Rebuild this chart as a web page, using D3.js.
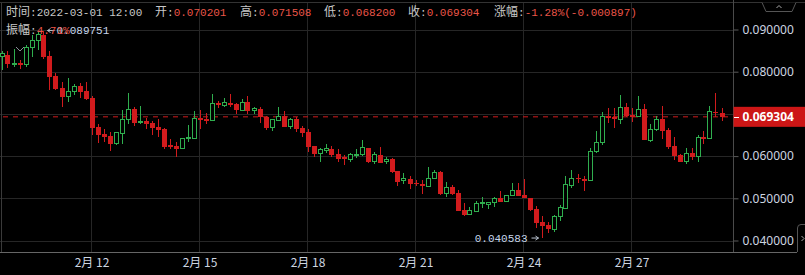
<!DOCTYPE html>
<html>
<head>
<meta charset="utf-8">
<script src="https://cdn.jsdelivr.net/npm/d3@7/dist/d3.min.js"></script>
<style>
  html, body { margin: 0; padding: 0; background: #000; overflow: hidden; }
  svg { display: block; }
</style>
</head>
<body>
<svg id="chart" width="805" height="275"></svg>
<script>
'use strict';

// 4h candles, the first one opens 2022-02-09 12:00
const startTime = new Date(2022, 1, 9, 12);
const stepHours = 4;

const opens = [
  0.0835, 0.0840, 0.0818, 0.0820, 0.0818, 0.0857, 0.0874, 0.0887, 0.0837, 0.0790,
  0.0761, 0.0741, 0.0753, 0.0766, 0.0754, 0.0737, 0.0668, 0.0652, 0.0648, 0.0630,
  0.0654, 0.0686, 0.0712, 0.0680, 0.0683, 0.0679, 0.0670, 0.0664, 0.0626, 0.0624,
  0.0619, 0.0642, 0.0642, 0.0691, 0.0688, 0.0684, 0.0727, 0.0721, 0.0727, 0.0724,
  0.0709, 0.0728, 0.0709, 0.0712, 0.0692, 0.0667, 0.0684, 0.0695, 0.0670, 0.0687,
  0.0667, 0.0658, 0.0624, 0.0607, 0.0614, 0.0617, 0.0605, 0.0597, 0.0591, 0.0601,
  0.0603, 0.0620, 0.0587, 0.0603, 0.0587, 0.0593, 0.0565, 0.0541, 0.0546, 0.0537,
  0.0534, 0.0528, 0.0547, 0.0562, 0.0512, 0.0526, 0.0512, 0.0472, 0.0462, 0.0468,
  0.0487, 0.0486, 0.0490, 0.0500, 0.0492, 0.0506, 0.0519, 0.0508, 0.0500, 0.0475,
  0.0443, 0.0437, 0.0427, 0.0458, 0.0476, 0.0530, 0.0549, 0.0546, 0.0542, 0.0610,
  0.0633, 0.0695, 0.0692, 0.0687, 0.0716, 0.0697, 0.0693, 0.0711, 0.0637, 0.0664,
  0.0688, 0.0662, 0.0624, 0.0603, 0.0587, 0.0607, 0.0599, 0.0646, 0.0642, 0.0705,
  0.070201
];
const highs = [
  0.0849, 0.0849, 0.0854, 0.0828, 0.0863, 0.0887, 0.0895, 0.089751, 0.0849, 0.0798,
  0.0775, 0.0786, 0.0770, 0.0773, 0.0775, 0.0743, 0.0676, 0.0664, 0.0658, 0.0657,
  0.0709, 0.0749, 0.0717, 0.0719, 0.0691, 0.0683, 0.0687, 0.0667, 0.0640, 0.0634,
  0.0643, 0.0674, 0.0708, 0.0709, 0.0703, 0.0747, 0.0731, 0.0738, 0.0747, 0.0725,
  0.0735, 0.0743, 0.0717, 0.0717, 0.0696, 0.0686, 0.0716, 0.0708, 0.0691, 0.0692,
  0.0672, 0.0664, 0.0624, 0.0619, 0.0629, 0.0624, 0.0617, 0.0603, 0.0608, 0.0617,
  0.0637, 0.0620, 0.0610, 0.0622, 0.0597, 0.0595, 0.0565, 0.0559, 0.0554, 0.0543,
  0.0543, 0.0575, 0.0567, 0.0565, 0.0538, 0.0532, 0.0520, 0.0490, 0.0480, 0.0494,
  0.0502, 0.0491, 0.0504, 0.0517, 0.0507, 0.0536, 0.0536, 0.0546, 0.0501, 0.0482,
  0.0459, 0.0445, 0.0460, 0.0484, 0.0554, 0.0567, 0.0558, 0.0554, 0.0619, 0.0660,
  0.0705, 0.0715, 0.0715, 0.0745, 0.0725, 0.0713, 0.0742, 0.0724, 0.0676, 0.0696,
  0.0719, 0.0666, 0.0646, 0.0605, 0.0619, 0.0619, 0.0650, 0.0660, 0.0719, 0.0749,
  0.071508
];
const lows = [
  0.0804, 0.0809, 0.0812, 0.0806, 0.0812, 0.0836, 0.0851, 0.0829, 0.0757, 0.0757,
  0.0717, 0.0729, 0.0745, 0.0737, 0.0733, 0.0650, 0.0630, 0.0634, 0.0612, 0.0626,
  0.0629, 0.0675, 0.0672, 0.0675, 0.0664, 0.0650, 0.0646, 0.0617, 0.0618, 0.0597,
  0.0618, 0.0634, 0.0641, 0.0664, 0.0676, 0.0682, 0.0713, 0.0717, 0.0717, 0.0699,
  0.0707, 0.0699, 0.0699, 0.0679, 0.0662, 0.0660, 0.0684, 0.0668, 0.0664, 0.0656,
  0.0645, 0.0609, 0.0599, 0.0587, 0.0607, 0.0599, 0.0585, 0.0579, 0.0585, 0.0596,
  0.0601, 0.0583, 0.0581, 0.0583, 0.0581, 0.0559, 0.0530, 0.0534, 0.0522, 0.0530,
  0.0510, 0.0526, 0.0546, 0.0508, 0.0502, 0.0508, 0.0471, 0.0459, 0.0460, 0.0467,
  0.0478, 0.0474, 0.0480, 0.0492, 0.0492, 0.0505, 0.0505, 0.0500, 0.0470, 0.0430,
  0.040583, 0.0417, 0.0420, 0.0446, 0.0476, 0.0524, 0.0537, 0.0518, 0.0542, 0.0607,
  0.0626, 0.0678, 0.0666, 0.0675, 0.0693, 0.0680, 0.0692, 0.0637, 0.0634, 0.0660,
  0.0640, 0.0618, 0.0591, 0.0585, 0.0581, 0.0591, 0.0585, 0.0628, 0.0642, 0.0692,
  0.068200
];
const closes = [
  0.0842, 0.0818, 0.0820, 0.0817, 0.0858, 0.0875, 0.0887, 0.0836, 0.0788, 0.0759,
  0.0741, 0.0754, 0.0766, 0.0753, 0.0735, 0.0667, 0.0650, 0.0646, 0.0629, 0.0656,
  0.0687, 0.0711, 0.0679, 0.0683, 0.0676, 0.0667, 0.0662, 0.0622, 0.0622, 0.0617,
  0.0642, 0.0645, 0.0690, 0.0686, 0.0684, 0.0725, 0.0721, 0.0727, 0.0721, 0.0709,
  0.0728, 0.0707, 0.0712, 0.0692, 0.0667, 0.0686, 0.0695, 0.0670, 0.0686, 0.0664,
  0.0655, 0.0622, 0.0605, 0.0615, 0.0617, 0.0603, 0.0593, 0.0592, 0.0603, 0.0604,
  0.0620, 0.0585, 0.0603, 0.0584, 0.0593, 0.0563, 0.0539, 0.0546, 0.0534, 0.0533,
  0.0528, 0.0547, 0.0562, 0.0510, 0.0526, 0.0510, 0.0471, 0.0460, 0.0470, 0.0487,
  0.0490, 0.0491, 0.0500, 0.0492, 0.0506, 0.0519, 0.0506, 0.0500, 0.0472, 0.0441,
  0.0435, 0.0427, 0.0458, 0.0479, 0.0532, 0.0547, 0.0545, 0.0542, 0.0610, 0.0633,
  0.0693, 0.0690, 0.0687, 0.0716, 0.0696, 0.0693, 0.0711, 0.0637, 0.0664, 0.0687,
  0.0660, 0.0622, 0.0601, 0.0587, 0.0607, 0.0599, 0.0645, 0.0641, 0.0705, 0.070201,
  0.069304
];

const priceTicks = [0.04, 0.05, 0.06, 0.07, 0.08, 0.09];
const dayTicks = [12, 15, 18, 21, 24, 27].map(d => new Date(2022, 1, d));

const headerItems = [
  { label: '时间', value: '2022-03-01 12:00', hot: false },
  { label: '开', value: '0.070201', hot: true },
  { label: '高', value: '0.071508', hot: true },
  { label: '低', value: '0.068200', hot: true },
  { label: '收', value: '0.069304', hot: true },
  { label: '涨幅', value: '-1.28%(-0.000897)', hot: true }
];
const amplitude = { label: '振幅', value: '4.71%' };

// layout
const W = 805, H = 275;
const plotRight = 733.5, plotTop = 2.5, plotBottom = 252.5;
const headerX = [6, 155, 240, 324, 408, 494];
const UP = '#2fae4e', DOWN = '#d11b1d';
const GRID = '#262626';
const AXIS_TEXT = '#cdd5e0';
const MONO = '"Liberation Mono", "DejaVu Sans Mono", monospace';
const CJK = '"Noto Sans CJK SC", "Noto Sans", sans-serif';
const SANS = '"Noto Sans", "Noto Sans CJK SC", sans-serif';

const candles = closes.map((c, i) => ({
  t: d3.timeHour.offset(startTime, i * stepHours),
  o: opens[i], h: highs[i], l: lows[i], c
}));

const svg = d3.select('#chart');
svg.append('rect').attr('width', W).attr('height', H).attr('fill', '#000');

const x = d3.scaleTime()
  .domain([dayTicks[0], dayTicks[dayTicks.length - 1]])
  .range([91.5, 631.5]);
const y = d3.scaleLinear().domain([0.04, 0.09]).range([240.5, 29.5]);
const cx = d => Math.round(x(d.t)) + 0.5;

// frame + grid
const grid = svg.append('g').attr('shape-rendering', 'crispEdges');
grid.selectAll('line.h').data(priceTicks).join('line')
  .attr('class', 'h')
  .attr('x1', 0).attr('x2', plotRight)
  .attr('y1', d => Math.round(y(d)) + 0.5).attr('y2', d => Math.round(y(d)) + 0.5)
  .attr('stroke', GRID);
grid.selectAll('line.v').data(dayTicks).join('line')
  .attr('class', 'v')
  .attr('x1', d => x(d)).attr('x2', d => x(d))
  .attr('y1', plotTop).attr('y2', plotBottom)
  .attr('stroke', GRID);
grid.append('line').attr('x1', 0).attr('x2', W).attr('y1', plotTop).attr('y2', plotTop)
  .attr('stroke', '#333');
grid.append('line').attr('x1', 1.5).attr('x2', 1.5).attr('y1', plotTop).attr('y2', plotBottom)
  .attr('stroke', '#3a3a3a');
grid.append('line').attr('x1', plotRight).attr('x2', plotRight).attr('y1', 0).attr('y2', plotBottom)
  .attr('stroke', '#4a4a4a');
grid.append('line').attr('x1', 0).attr('x2', 797).attr('y1', plotBottom).attr('y2', plotBottom)
  .attr('stroke', '#666');

// current price line
const last = candles[candles.length - 1];
svg.append('line')
  .attr('x1', 0).attr('x2', plotRight)
  .attr('y1', y(last.c)).attr('y2', y(last.c))
  .attr('stroke', DOWN).attr('stroke-dasharray', '5,5').attr('stroke-dashoffset', 7);

// candles
const cg = svg.append('g').attr('shape-rendering', 'crispEdges');
const bars = cg.selectAll('g').data(candles).join('g');
bars.append('line')
  .attr('x1', cx).attr('x2', cx)
  .attr('y1', d => y(d.h)).attr('y2', d => y(d.l))
  .attr('stroke', d => d.c >= d.o ? UP : DOWN);
bars.filter(d => d.c >= d.o).append('rect')
  .attr('x', d => cx(d) - 2).attr('width', 4)
  .attr('y', d => y(d.c))
  .attr('height', d => Math.max(1, y(d.o) - y(d.c)))
  .attr('fill', '#000').attr('stroke', UP);
bars.filter(d => d.c < d.o).append('rect')
  .attr('x', d => cx(d) - 2.5).attr('width', 5)
  .attr('y', d => y(d.o))
  .attr('height', d => Math.max(1.5, y(d.c) - y(d.o)))
  .attr('fill', DOWN);

// max / min markers
const hiIdx = d3.maxIndex(highs), loIdx = d3.minIndex(lows);
const hi = candles[hiIdx], lo = candles[loIdx];
const marks = svg.append('g').attr('fill', 'none').attr('stroke', '#b8c2cf').attr('stroke-width', 1);
marks.append('path')
  .attr('d', `M${cx(hi) + 11},${y(hi.h)}H${cx(hi) + 4}M${cx(hi) + 7},${y(hi.h) - 2}L${cx(hi) + 4},${y(hi.h)}L${cx(hi) + 7},${y(hi.h) + 2}`);
marks.append('path')
  .attr('d', `M${cx(lo) - 11},${y(lo.l)}H${cx(lo) - 4}M${cx(lo) - 7},${y(lo.l) - 2}L${cx(lo) - 4},${y(lo.l)}L${cx(lo) - 7},${y(lo.l) + 2}`);
svg.append('text')
  .attr('x', cx(hi) + 13).attr('y', y(hi.h)).attr('dy', '0.35em')
  .attr('font-family', MONO).attr('font-size', 11).attr('fill', '#c6d6ea')
  .text(d3.format('.6f')(hi.h));
svg.append('text')
  .attr('x', cx(lo) - 15).attr('y', y(lo.l)).attr('dy', '0.35em')
  .attr('text-anchor', 'end')
  .attr('font-family', MONO).attr('font-size', 11).attr('fill', '#c6d6ea')
  .text(d3.format('.6f')(lo.l));

// y axis; the label hidden under the last price tag is dropped
const yAxis = d3.axisRight(y).tickValues(priceTicks).tickFormat(d3.format('.6f'))
  .tickSize(5).tickPadding(4);
const yg = svg.append('g').attr('transform', `translate(${plotRight},0)`).call(yAxis);
yg.select('.domain').remove();
yg.selectAll('.tick line').attr('stroke', '#5a5a5a');
yg.selectAll('.tick text').attr('fill', AXIS_TEXT).attr('font-family', SANS).attr('font-size', 12);
yg.selectAll('.tick').filter(d => Math.abs(y(d) - y(last.c)) < 14).select('text').remove();

// x axis
const xAxis = d3.axisBottom(x).tickValues(dayTicks)
  .tickFormat(d => `${d.getMonth() + 1}月 ${d.getDate()}`)
  .tickSize(0).tickPadding(6);
const xg = svg.append('g').attr('transform', `translate(0,${plotBottom})`).call(xAxis);
xg.select('.domain').remove();
xg.selectAll('.tick text').attr('fill', AXIS_TEXT).attr('font-family', CJK).attr('font-size', 12);

// last price tag
const tag = svg.append('g').attr('transform', `translate(${plotRight},${y(last.c)})`);
tag.append('rect').attr('x', 0).attr('y', -10).attr('width', W - plotRight).attr('height', 20)
  .attr('fill', '#cc1616');
tag.append('line').attr('x1', 0).attr('x2', 5).attr('y1', 0.5).attr('y2', 0.5)
  .attr('stroke', '#fff').attr('shape-rendering', 'crispEdges');
tag.append('text').attr('x', 9).attr('dy', '0.35em')
  .attr('font-family', SANS).attr('font-size', 12).attr('font-weight', 'bold')
  .attr('fill', '#fff').text(d3.format('.6f')(last.c));

// little widgets on the frame
const widgets = svg.append('g').attr('fill', 'none').attr('stroke', '#555');
widgets.append('path').attr('d', 'M762,2.5 L766,11.5 H792 L796,2.5').attr('fill', '#000');
widgets.append('path').attr('d', 'M776.5,8 L779,5.5 L781.5,8').attr('stroke', '#aaa');
widgets.append('path').attr('d', 'M805,224.5 H801 Q797.5,224.5 797.5,228 V252').attr('fill', '#000');
widgets.append('path').attr('d', 'M801.5,236 L804,238.5 L801.5,241').attr('stroke', '#aaa');
widgets.append('path').attr('d', 'M16,47 L20,51 L24,47').attr('stroke', '#8a8f99');

// header
function headerText(g, item, x0, yBase) {
  const t = g.append('text').attr('x', x0).attr('y', yBase);
  t.append('tspan').attr('font-family', CJK).attr('font-size', 12).attr('fill', '#c8c8c8')
    .text(item.label);
  t.append('tspan').attr('font-family', MONO).attr('font-size', 11).attr('fill', '#c8c8c8')
    .text(':');
  t.append('tspan').attr('font-family', MONO).attr('font-size', 11)
    .attr('fill', item.hot ? '#ea5548' : '#c8c8c8')
    .text(item.value);
}
const hg = svg.append('g');
headerItems.forEach((item, i) => headerText(hg, item, headerX[i], 16));
headerText(hg, { ...amplitude, hot: true }, 6, 34);
</script>
</body>
</html>
